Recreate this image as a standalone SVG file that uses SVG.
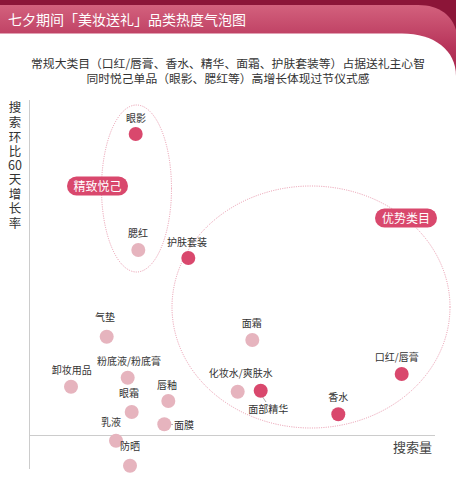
<svg xmlns="http://www.w3.org/2000/svg" width="456" height="477" viewBox="0 0 456 477">
<defs>
<linearGradient id="band" x1="0" y1="0" x2="0" y2="1">
<stop offset="0" stop-color="#d3617d"/>
<stop offset="0.5" stop-color="#b7345a"/>
<stop offset="1" stop-color="#9c1d45"/>
</linearGradient>
</defs>
<style>
text{font-family:"Noto Sans CJK SC","Noto Sans",sans-serif;}
.lbl{font-size:10px;fill:#333;text-anchor:middle;}
.dk{fill:#d9486d;}
.lt{fill:#e6b4be;}
.grp{fill:none;stroke:#e995aa;stroke-width:1;stroke-dasharray:1 1.3;}
.pill{fill:#d9486d;}
.pt{font-size:12px;fill:#fff;text-anchor:middle;}
.ax{stroke:#cccccc;stroke-width:1;fill:none;}
.yl{font-size:12.5px;fill:#333;text-anchor:middle;}
.lead{stroke:#999;stroke-width:0.8;fill:none;}
</style>
<rect x="0" y="0" width="456" height="90" fill="#8c1538"/>
<path d="M0,5 H418 C440,5 452,16 456,30 V90 H0 Z" fill="url(#band)"/>
<path d="M0,33.5 H402 C434,33.5 456,50 456,76 V477 H0 Z" fill="#ffffff"/>
<text x="8" y="25" font-size="14" fill="#ffffff">七夕期间「美妆送礼」品类热度气泡图</text>
<text x="228" y="68" font-size="11.8" fill="#333" text-anchor="middle">常规大类目（口红/唇膏、香水、精华、面霜、护肤套装等）占据送礼主心智</text>
<text x="228" y="82.5" font-size="11.8" fill="#333" text-anchor="middle">同时悦己单品（眼影、腮红等）高增长体现过节仪式感</text>

<g id="axes">
<line class="ax" x1="29.5" y1="100" x2="29.5" y2="469"/>
<line class="ax" x1="29" y1="435.5" x2="435" y2="435.5"/>
<text id="y-label" class="yl"><tspan x="15" y="112">搜</tspan><tspan x="15" y="127">索</tspan><tspan x="15" y="142">环</tspan><tspan x="15" y="156">比</tspan><tspan x="15" y="170">60</tspan><tspan x="15" y="184">天</tspan><tspan x="15" y="199">增</tspan><tspan x="15" y="213">长</tspan><tspan x="15" y="228">率</tspan></text>
<text id="x-label" x="432" y="452" font-size="13" fill="#444" text-anchor="end">搜索量</text>
</g>

<g id="group-jingzhi">
<ellipse class="grp" cx="136.5" cy="188.5" rx="35" ry="83.5"/>
<rect class="pill" x="67" y="176.5" width="61" height="19" rx="9.5"/>
<text class="pt" x="97.5" y="190.5">精致悦己</text>
</g>
<g id="group-youshi">
<ellipse class="grp" cx="311" cy="307" rx="139" ry="121"/>
<rect class="pill" x="375" y="208.5" width="62" height="19" rx="9.5"/>
<text class="pt" x="406" y="222.5">优势类目</text>
</g>

<g id="connectors">
<line class="lead" x1="167" y1="424.5" x2="173" y2="424.5"/>
<line class="lead" x1="262" y1="396" x2="266" y2="402"/>
</g>

<g id="n-yanying"><circle class="dk" cx="135.7" cy="134" r="7"/><text class="lbl" x="136" y="122">眼影</text></g>
<g id="n-saihong"><circle class="lt" cx="138.3" cy="250" r="7"/><text class="lbl" x="138" y="237">腮红</text></g>
<g id="n-hufutaozhuang"><circle class="dk" cx="188.3" cy="258" r="7"/><text class="lbl" x="187" y="246">护肤套装</text></g>
<g id="n-qidian"><circle class="lt" cx="106.7" cy="336.7" r="7"/><text class="lbl" x="105" y="321">气垫</text></g>
<g id="n-fendiye"><circle class="lt" cx="127.7" cy="377.7" r="7"/><text class="lbl" x="129" y="365">粉底液/粉底膏</text></g>
<g id="n-xiezhuang"><circle class="lt" cx="71" cy="386.7" r="7"/><text class="lbl" x="71.7" y="374">卸妆用品</text></g>
<g id="n-yanshuang"><circle class="lt" cx="131.7" cy="412" r="7"/><text class="lbl" x="129" y="397">眼霜</text></g>
<g id="n-chunyou"><circle class="lt" cx="168.3" cy="401" r="7"/><text class="lbl" x="167" y="389">唇釉</text></g>
<g id="n-mianmo"><circle class="lt" cx="164.3" cy="424.3" r="7"/><text class="lbl" x="174" y="429" style="text-anchor:start">面膜</text></g>
<g id="n-ruye"><circle class="lt" cx="116" cy="440.7" r="7"/><text class="lbl" x="111" y="426">乳液</text></g>
<g id="n-fangshai"><circle class="lt" cx="130" cy="465.7" r="7"/><text class="lbl" x="130" y="450">防晒</text></g>
<g id="n-mianshuang"><circle class="lt" cx="252.3" cy="340" r="7"/><text class="lbl" x="251.7" y="327">面霜</text></g>
<g id="n-huazhuangshui"><circle class="lt" cx="237.7" cy="391.7" r="7"/><text class="lbl" x="240.7" y="377">化妆水/爽肤水</text></g>
<g id="n-mianbujinghua"><circle class="dk" cx="260.7" cy="390.7" r="7"/><text class="lbl" x="268.3" y="413">面部精华</text></g>
<g id="n-kouhong"><circle class="dk" cx="401.7" cy="374" r="7"/><text class="lbl" x="396.7" y="361">口红/唇膏</text></g>
<g id="n-xiangshui"><circle class="dk" cx="338.3" cy="414.3" r="7"/><text class="lbl" x="338.3" y="401">香水</text></g>
</svg>
